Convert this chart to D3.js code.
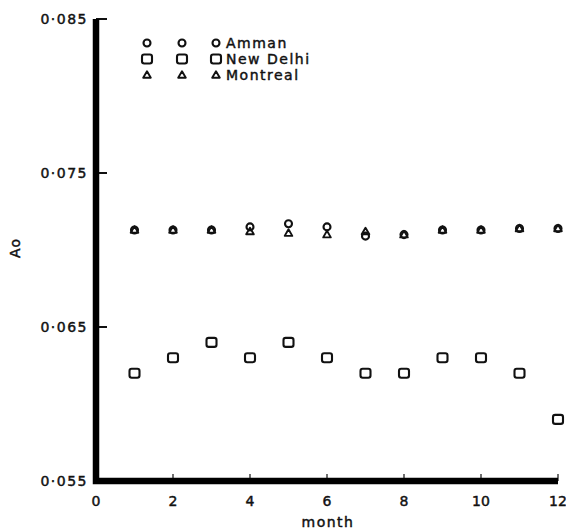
<!DOCTYPE html>
<html>
<head>
<meta charset="utf-8">
<script src="https://cdn.jsdelivr.net/npm/d3@7"></script>
<style>
  body { margin: 0; background: #fff; }
  text { font-family: "DejaVu Sans", sans-serif; fill: #111; stroke: #111; stroke-width: 0.45; }
</style>
</head>
<body>
<div id="chart"></div>
<script>
// ── Data ──────────────────────────────────────────────────────────────────
const MONTHS = [1, 2, 3, 4, 5, 6, 7, 8, 9, 10, 11, 12];
const AMMAN = [0.0713, 0.0713, 0.0713, 0.0715, 0.0717, 0.0715, 0.0709, 0.0710, 0.0713, 0.0713, 0.0714, 0.0714];
const NEW_DELHI = [0.062, 0.063, 0.064, 0.063, 0.064, 0.063, 0.062, 0.062, 0.063, 0.063, 0.062, 0.059];
const MONTREAL = [0.0713, 0.0713, 0.0713, 0.0712, 0.0711, 0.0710, 0.0712, 0.0710, 0.0713, 0.0713, 0.0714, 0.0714];

const X_TICKS = [0, 2, 4, 6, 8, 10, 12];
const Y_TICKS = [0.055, 0.065, 0.075, 0.085];
const Y_TICK_LABELS = ["0·055", "0·065", "0·075", "0·085"];

const SERIES = [
    { name: "Amman", values: AMMAN, shape: "circle" },
    { name: "New Delhi", values: NEW_DELHI, shape: "square" },
    { name: "Montreal", values: MONTREAL, shape: "triangle" },
];

// ── Layout ────────────────────────────────────────────────────────────────
const W = 566, H = 531;
const svg = d3.select("#chart").append("svg")
    .attr("width", W).attr("height", H);

const x = d3.scaleLinear().domain([0, 12]).range([96, 558]);
const y = d3.scaleLinear().domain([0.055, 0.085]).range([481, 19]);

// marker drawing
function drawMarker(g, shape, cx, cy) {
    if (shape === "circle") {
        g.append("circle").attr("cx", cx).attr("cy", cy).attr("r", 3.5)
            .attr("fill", "none").attr("stroke", "#111").attr("stroke-width", 2.1);
    } else if (shape === "square") {
        g.append("rect").attr("x", cx - 5).attr("y", cy - 4.5)
            .attr("width", 10).attr("height", 9).attr("rx", 2.2)
            .attr("fill", "none").attr("stroke", "#111").attr("stroke-width", 2.1);
    } else {
        g.append("path")
            .attr("d", `M${cx},${cy - 3.8} L${cx + 3.8},${cy + 2.8} L${cx - 3.8},${cy + 2.8} Z`)
            .attr("fill", "none").attr("stroke", "#111").attr("stroke-width", 1.9)
            .attr("stroke-linejoin", "round");
    }
}

// ── Axes ──────────────────────────────────────────────────────────────────
// y ticks (inside, to the right)
svg.append("g").selectAll("line").data(Y_TICKS).join("line")
    .attr("x1", x(0)).attr("x2", x(0) + 11)
    .attr("y1", d => y(d)).attr("y2", d => y(d))
    .attr("stroke", "#111").attr("stroke-width", 2);

svg.append("g").selectAll("text").data(Y_TICKS).join("text")
    .attr("x", 88).attr("y", d => y(d) + 5)
    .attr("text-anchor", "end")
    .attr("font-size", 14).attr("letter-spacing", 1.5)
    .text((d, i) => Y_TICK_LABELS[i]);

// x ticks (inside, upward)
svg.append("g").selectAll("line").data(X_TICKS.slice(1)).join("line")
    .attr("x1", d => x(d)).attr("x2", d => x(d))
    .attr("y1", y(0.055)).attr("y2", y(0.055) - 7)
    .attr("stroke", "#111").attr("stroke-width", 1.2);

svg.append("g").selectAll("text").data(X_TICKS).join("text")
    .attr("x", d => x(d)).attr("y", 506)
    .attr("text-anchor", "middle")
    .attr("font-size", 14)
    .text(d => d);

// thick axis lines
svg.append("path")
    .attr("d", `M${x(0)},${y(0.085)} L${x(0)},${y(0.055)} L${x(12)},${y(0.055)}`)
    .attr("fill", "none").attr("stroke", "#000").attr("stroke-width", 6.5)
    .attr("stroke-linejoin", "miter");

// axis labels
svg.append("text")
    .attr("x", 328).attr("y", 527)
    .attr("text-anchor", "middle")
    .attr("font-size", 14).attr("letter-spacing", 1.5)
    .text("month");

svg.append("text")
    .attr("transform", `translate(20,${(y(0.055) + y(0.085)) / 2 - 2}) rotate(-90)`)
    .attr("text-anchor", "middle")
    .attr("font-size", 14).attr("letter-spacing", 1)
    .text("Ao");

// ── Points ────────────────────────────────────────────────────────────────
const pts = svg.append("g");
SERIES.forEach(s => {
    MONTHS.forEach((m, i) => drawMarker(pts, s.shape, x(m), y(s.values[i])));
});

// ── Legend ────────────────────────────────────────────────────────────────
const legend = svg.append("g");
SERIES.forEach((s, i) => {
    const ly = 43 + i * 16;
    [147, 182, 216].forEach(lx => drawMarker(legend, s.shape, lx, ly));
    legend.append("text")
        .attr("x", 226).attr("y", ly + 5)
        .attr("font-size", 14).attr("letter-spacing", 1.5)
        .text(s.name);
});
</script>
</body>
</html>
